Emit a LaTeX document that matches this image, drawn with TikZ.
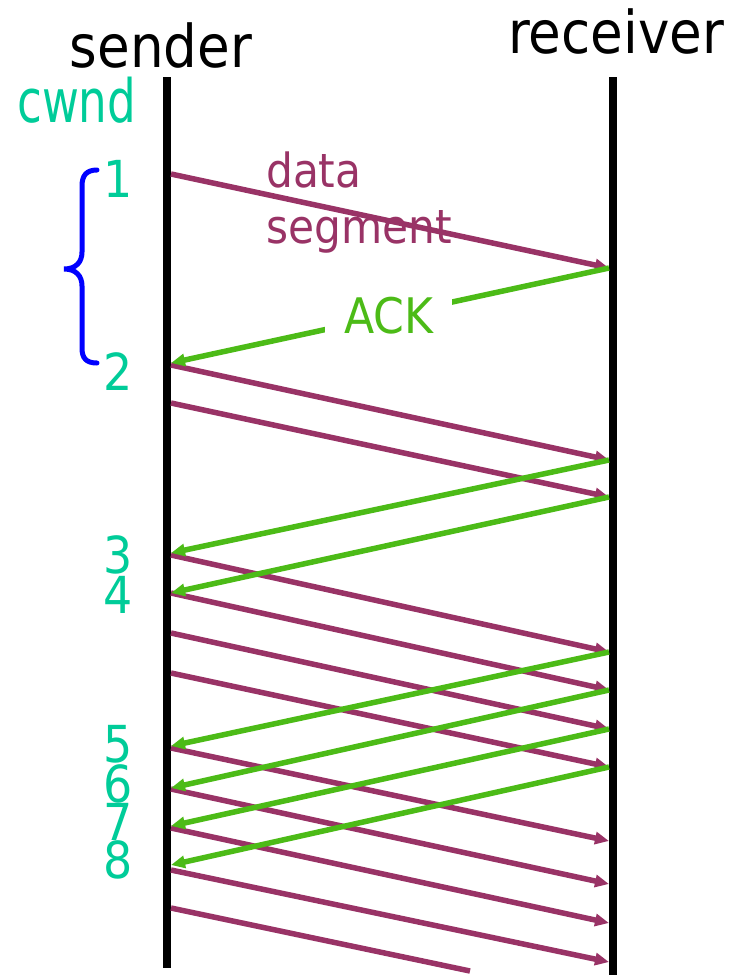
\documentclass[tikz,border=0pt]{standalone}
\usepackage{fontspec}
\setmainfont{DejaVu Sans Condensed}
\usetikzlibrary{arrows.meta}
\definecolor{datac}{HTML}{993366}
\definecolor{ackc}{HTML}{4CBB17}
\definecolor{numc}{HTML}{00CC99}
\definecolor{bracec}{HTML}{0000FF}
\tikzset{
  lifeline/.style={line width=8pt, black},
  datamsg/.style={line width=5.5pt, datac, -{Triangle[length=14pt,width=12pt]}},
  datafree/.style={line width=5.5pt, datac},
  ackmsg/.style={line width=5.5pt, ackc, -{Triangle[length=14pt,width=12pt]}},
  numlbl/.style={inner sep=0pt, anchor=base, text=numc, font=\fontsize{51}{55}\selectfont},
  headlbl/.style={inner sep=0pt, anchor=base, font=\fontsize{59}{62}\selectfont},
}
\begin{document}
\begin{tikzpicture}[x=1pt,y=-1pt]
\useasboundingbox[fill=white] (0,0) rectangle (746,975);
% headers
\node[headlbl] (sender) at (161,67) {sender};
\node[headlbl] (receiver) at (616,53) {receiver};
\node[inner sep=0pt, anchor=base west, text=numc, font=\fontsize{57}{60}\selectfont] (cwnd) at (17,122) {\scalebox{0.88}[1.05]{cwnd}};
% lifelines
\coordinate (stop) at (167,77);
\coordinate (sbot) at (167,968);
\coordinate (rtop) at (613,77);
\coordinate (rbot) at (613,975);
\draw[lifeline] (stop) -- (sbot);
\draw[lifeline] (rtop) -- (rbot);
% labels for data
\node[inner sep=0pt, anchor=base west, text=datac, font=\fontsize{47}{50}\selectfont] (datalbl) at (266,187) {data};
\node[inner sep=0pt, anchor=base west, text=datac, font=\fontsize{47}{50}\selectfont] (seglbl) at (266,243) {segment};
% data segments
\foreach \i/\a/\b in {1/174/268,2/365/460,3/403/497,4/555/652,5/593/690,6/633/729,7/673/767,8/748/841,9/789/884,10/828/923,11/870/962}{
  \coordinate (ds\i) at (171,\a);
  \coordinate (dr\i) at (609,\b);
  \draw[datamsg] (ds\i) -- (dr\i);
}
\coordinate (ds12) at (171,908);
\coordinate (dend) at (470,971);
\draw[datafree] (ds12) -- (dend);
% acks
\coordinate (ar1) at (609,268);
\coordinate (as1) at (171,363);
\draw[ackmsg] (ar1) -- node[pos=0.503, fill=white, inner xsep=19pt, inner ysep=2pt, text=ackc, font=\fontsize{49}{52}\selectfont] (acklbl) {ACK} (as1);
\foreach \i/\a/\b in {2/460/553,3/497/593,4/652/746,5/690/788,6/729/826,7/767/865}{
  \coordinate (ar\i) at (609,\a);
  \coordinate (as\i) at (171,\b);
  \draw[ackmsg] (ar\i) -- (as\i);
}
% cwnd numbers
\node[numlbl] (n1) at (118,197) {1};
\node[numlbl] (n2) at (118,390) {2};
\node[numlbl] (n3) at (118,573) {3};
\node[numlbl] (n4) at (118,613) {4};
\node[numlbl] (n5) at (118,762) {5};
\node[numlbl] (n6) at (118,802) {6};
\node[numlbl] (n7) at (118,840) {7};
\node[numlbl] (n8) at (118,878) {8};
% brace
\draw[bracec, line width=5pt, line cap=round]
  (97,170) .. controls (86,170) and (82,176) .. (82,186) -- (82,252)
  .. controls (82,262) and (76,269) .. (64,269)
  .. controls (76,269) and (82,276) .. (82,286) -- (82,348)
  .. controls (82,358) and (86,363) .. (97,363);
\end{tikzpicture}
\end{document}
